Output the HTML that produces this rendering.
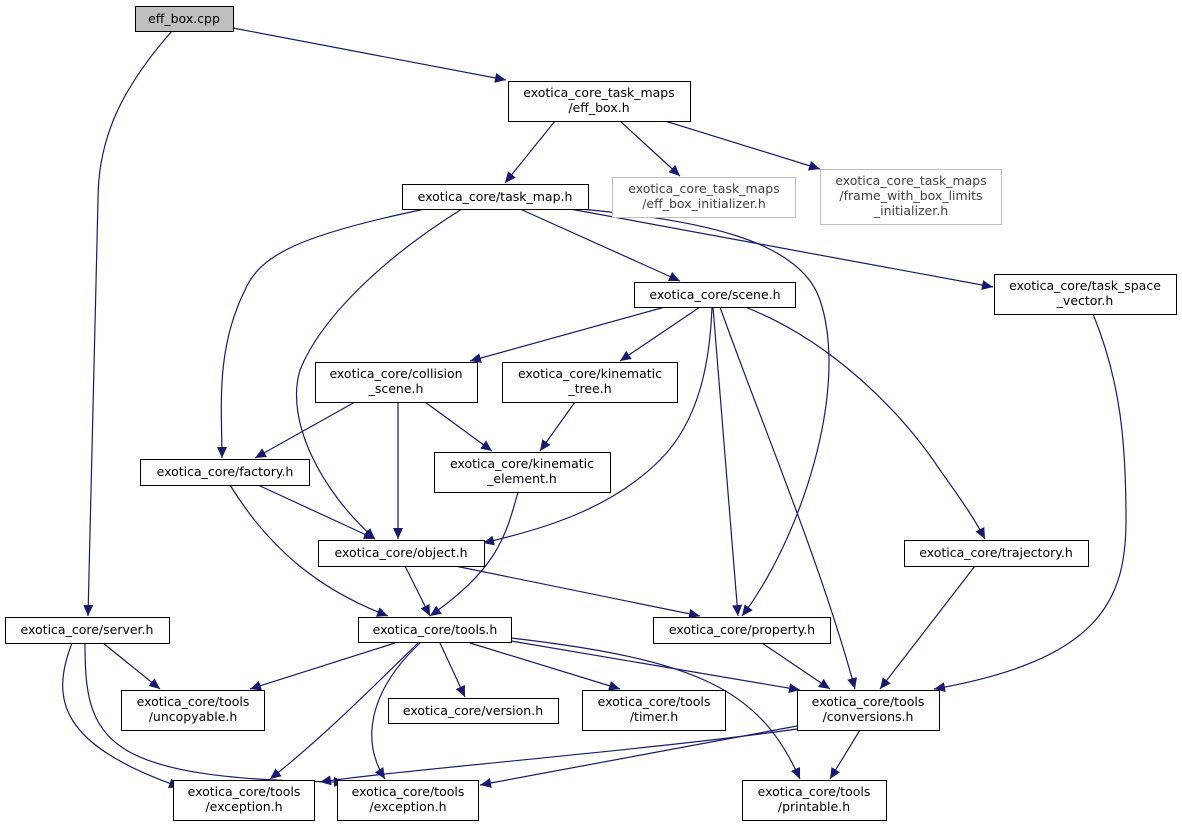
<!DOCTYPE html>
<html><head><meta charset="utf-8"><style>
html,body{margin:0;padding:0;background:#fff;}
svg text{font-family:"DejaVu Sans","Liberation Sans",sans-serif;font-size:12.5px;text-anchor:middle;}
</style></head><body>
<svg width="1182" height="827" viewBox="0 0 1182 827" xmlns="http://www.w3.org/2000/svg">
<defs>
<marker id="a" markerUnits="userSpaceOnUse" markerWidth="12" markerHeight="10" refX="11" refY="5" orient="auto">
<path d="M0,0 L11,5 L0,10 z" fill="#191970"/>
</marker>
</defs>
<g fill="none" stroke="#191970" stroke-width="1.2" marker-end="url(#a)">
<path d="M233,28 L506,80"/>
<path d="M172,31 C120,90 98,140 98,200 L88,616"/>
<path d="M555,121 L505,183"/>
<path d="M620,121 L680,176"/>
<path d="M665,121 L820,169"/>
<path d="M520,209 L680,281"/>
<path d="M570,209 L993,287"/>
<path d="M425,209 C300,235 260,255 245,290 C215,350 222,410 222,458"/>
<path d="M462,209 C380,260 320,320 300,370 C285,420 320,490 375,539"/>
<path d="M580,209 C700,220 800,240 820,300 C850,390 800,540 742,616"/>
<path d="M665,307 L470,361"/>
<path d="M700,307 L620,361"/>
<path d="M712,307 C710,360 700,420 660,460 C610,510 540,530 483,543"/>
<path d="M713,307 L738,616"/>
<path d="M720,307 C760,420 820,560 855,689"/>
<path d="M745,307 C830,340 900,410 940,470 C965,505 975,520 985,539"/>
<path d="M1093,314 C1120,380 1126,440 1126,520 C1126,600 1100,660 934,689"/>
<path d="M355,402 L255,458"/>
<path d="M398,402 L398,539"/>
<path d="M425,402 L492,451"/>
<path d="M575,402 L540,451"/>
<path d="M258,485 L375,539"/>
<path d="M230,485 C270,550 320,590 388,616"/>
<path d="M518,492 C505,540 495,570 430,616"/>
<path d="M405,566 L430,616"/>
<path d="M455,566 L700,616"/>
<path d="M975,566 L880,689"/>
<path d="M103,643 L160,689"/>
<path d="M72,643 C50,700 60,745 180,787"/>
<path d="M85,643 C85,740 100,780 345,782"/>
<path d="M395,643 L250,689"/>
<path d="M440,643 L465,697"/>
<path d="M470,643 L620,689"/>
<path d="M511,641 L800,690"/>
<path d="M511,638 C700,660 760,690 800,779"/>
<path d="M418,643 C370,690 320,740 270,779"/>
<path d="M420,643 C370,690 360,740 385,779"/>
<path d="M762,643 L830,689"/>
<path d="M797,729 C650,750 400,770 320,782"/>
<path d="M797,726 L480,785"/>
<path d="M860,730 L830,779"/>
</g>
<g stroke="#000" stroke-width="1" fill="#fff">
<rect x="135.5" y="6.5" width="98" height="25" fill="#bfbfbf"/>
<rect x="508.5" y="81.5" width="182" height="40"/>
<rect x="402.5" y="184.5" width="186" height="25"/>
<rect x="612.5" y="177.5" width="183" height="40" stroke="#bfbfbf"/>
<rect x="820.5" y="169.5" width="181" height="55" stroke="#bfbfbf"/>
<rect x="634.5" y="282.5" width="161" height="25"/>
<rect x="994.5" y="274.5" width="182" height="40"/>
<rect x="315.5" y="362.5" width="162" height="40"/>
<rect x="502.5" y="362.5" width="175" height="40"/>
<rect x="140.5" y="459.5" width="169" height="26"/>
<rect x="434.5" y="452.5" width="176" height="40"/>
<rect x="318.5" y="540.5" width="166" height="26"/>
<rect x="904.5" y="540.5" width="184" height="26"/>
<rect x="5.5" y="617.5" width="164" height="26"/>
<rect x="358.5" y="617.5" width="153" height="25"/>
<rect x="653.5" y="617.5" width="177" height="26"/>
<rect x="121.5" y="690.5" width="143" height="40"/>
<rect x="388.5" y="698.5" width="170" height="25"/>
<rect x="582.5" y="690.5" width="143" height="40"/>
<rect x="797.5" y="690.5" width="142" height="40"/>
<rect x="173.5" y="780.5" width="141" height="40"/>
<rect x="337.5" y="780.5" width="141" height="40"/>
<rect x="742.5" y="780.5" width="144" height="40"/>
</g>
<g fill="#000">
<text x="184" y="23">eff_box.cpp</text>
<text x="599" y="97">exotica_core_task_maps</text><text x="599" y="112">/eff_box.h</text>
<text x="495" y="201">exotica_core/task_map.h</text>
<text x="704" y="193" fill="#404040">exotica_core_task_maps</text><text x="704" y="208" fill="#404040">/eff_box_initializer.h</text>
<text x="911" y="185" fill="#404040">exotica_core_task_maps</text><text x="911" y="200" fill="#404040">/frame_with_box_limits</text><text x="911" y="215" fill="#404040">_initializer.h</text>
<text x="715" y="299">exotica_core/scene.h</text>
<text x="1085" y="290">exotica_core/task_space</text><text x="1085" y="305">_vector.h</text>
<text x="396" y="378">exotica_core/collision</text><text x="396" y="393">_scene.h</text>
<text x="590" y="378">exotica_core/kinematic</text><text x="590" y="393">_tree.h</text>
<text x="225" y="476">exotica_core/factory.h</text>
<text x="522" y="468">exotica_core/kinematic</text><text x="522" y="483">_element.h</text>
<text x="401" y="557">exotica_core/object.h</text>
<text x="996" y="557">exotica_core/trajectory.h</text>
<text x="87" y="634">exotica_core/server.h</text>
<text x="435" y="634">exotica_core/tools.h</text>
<text x="742" y="634">exotica_core/property.h</text>
<text x="193" y="706">exotica_core/tools</text><text x="193" y="721">/uncopyable.h</text>
<text x="473" y="715">exotica_core/version.h</text>
<text x="654" y="706">exotica_core/tools</text><text x="654" y="721">/timer.h</text>
<text x="868" y="706">exotica_core/tools</text><text x="868" y="721">/conversions.h</text>
<text x="244" y="796">exotica_core/tools</text><text x="244" y="811">/exception.h</text>
<text x="408" y="796">exotica_core/tools</text><text x="408" y="811">/exception.h</text>
<text x="814" y="796">exotica_core/tools</text><text x="814" y="811">/printable.h</text>
</g>
</svg>
</body></html>
